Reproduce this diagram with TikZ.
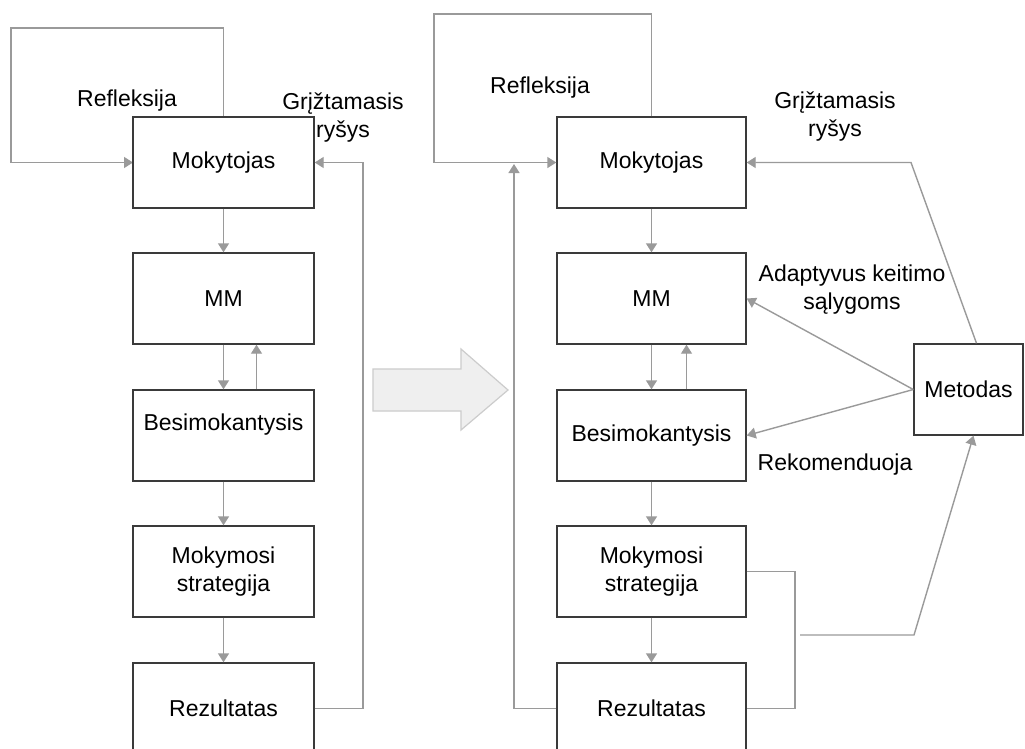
\documentclass[tikz,border=0pt]{standalone}
\usepackage{fontspec}
\setmainfont{Liberation Sans}
\usetikzlibrary{arrows.meta}
\definecolor{conncol}{HTML}{9A9A9A}
\definecolor{boxcol}{HTML}{3A3A3A}
\definecolor{bigfill}{HTML}{EFEFEF}
\definecolor{bigdraw}{HTML}{CCCCCC}
\tikzset{
  boxL/.style={draw=boxcol, line width=1.4pt, fill=white, minimum width=181pt, minimum height=91pt, inner sep=0pt, align=center, font=\fontsize{23}{28}\selectfont},
  boxR/.style={boxL, minimum width=189pt},
  boxM/.style={boxL, minimum width=109pt},
  lbl/.style={align=center, inner sep=0pt, font=\fontsize{23}{28}\selectfont},
  conn/.style={draw=conncol, line width=1.4pt},
  arr/.style={conn, -{Triangle[length=9pt,width=11pt]}},
}
\begin{document}
\begin{tikzpicture}[x=1pt,y=-1pt]
\clip (0,0) rectangle (1025,748);
\fill[white] (0,0) rectangle (1025,748);
% ---------- left diagram ----------
\coordinate (rl1) at (11,28);
\coordinate (fbL) at (363,162.5);
\node[lbl] (reflL) at (127,101) {Refleksija};
\node[lbl] (grL) at (343,118) {Grįžtamasis\\ryšys};
\draw[arr] (223.5,117) |- (rl1) |- (133,162.5);
\node[boxL] (mokL) at (223.5,162.5) {Mokytojas};
\node[boxL] (mmL) at (223.5,298.5) {MM};
\node[boxL] (besL) at (223.5,435.5) {\raisebox{27pt}{Besimokantysis}};
\node[boxL] (msL) at (223.5,571.5) {Mokymosi\\strategija};
\node[boxL] (rezL) at (223.5,708.5) {Rezultatas};
\draw[arr] (mokL.south) -- (mmL.north);
\draw[arr] (mmL.south) -- (besL.north);
\draw[arr] ([xshift=33pt]besL.north) -- ([xshift=33pt]mmL.south);
\draw[arr] (besL.south) -- (msL.north);
\draw[arr] (msL.south) -- (rezL.north);
\draw[arr] (rezL.east) -| (fbL) -- (mokL.east);
% ---------- big arrow ----------
\draw[draw=bigdraw, fill=bigfill, line width=1.2pt] (373,369) -- (461,369) -- (461,349) -- (508,390) -- (461,430) -- (461,411) -- (373,411) -- cycle;
% ---------- right diagram ----------
\coordinate (rr1) at (434,14);
\coordinate (ru) at (514,164);
\coordinate (mt) at (911,162.5);
\coordinate (brc) at (795,640);
\coordinate (ms1) at (800,635);
\coordinate (ms2) at (914,635);
\node[lbl] (reflR) at (540,88) {Refleksija};
\node[lbl] (grR) at (835,117) {Grįžtamasis\\ryšys};
\node[boxR] (mokR) at (651.5,162.5) {Mokytojas};
\draw[arr] (mokR.north) |- (rr1) |- (mokR.west);
\node[boxR] (mmR) at (651.5,298.5) {MM};
\node[boxR] (besR) at (651.5,435.5) {Besimokantysis};
\node[boxR] (msR) at (651.5,571.5) {Mokymosi\\strategija};
\node[boxR] (rezR) at (651.5,708.5) {Rezultatas};
\node[boxM] (met) at (968.5,389.5) {Metodas};
\node[lbl] (adR) at (852,290) {Adaptyvus keitimo\\sąlygoms};
\node[lbl] (rekR) at (835,465) {Rekomenduoja};
\draw[arr] (mokR.south) -- (mmR.north);
\draw[arr] (mmR.south) -- (besR.north);
\draw[arr] ([xshift=35pt]besR.north) -- ([xshift=35pt]mmR.south);
\draw[arr] (besR.south) -- (msR.north);
\draw[arr] (msR.south) -- (rezR.north);
\draw[arr] (rezR.west) -| (ru);
\draw[arr] ([xshift=8pt]met.north) -- (mt) -- (mokR.east);
\draw[arr] (met.west) -- (mmR.east);
\draw[arr] (met.west) -- (besR.east);
\draw[conn] (msR.east) -| (brc) |- (rezR.east);
\draw[arr] (ms1) -- (ms2) -- ([xshift=5pt]met.south);
\end{tikzpicture}
\end{document}
